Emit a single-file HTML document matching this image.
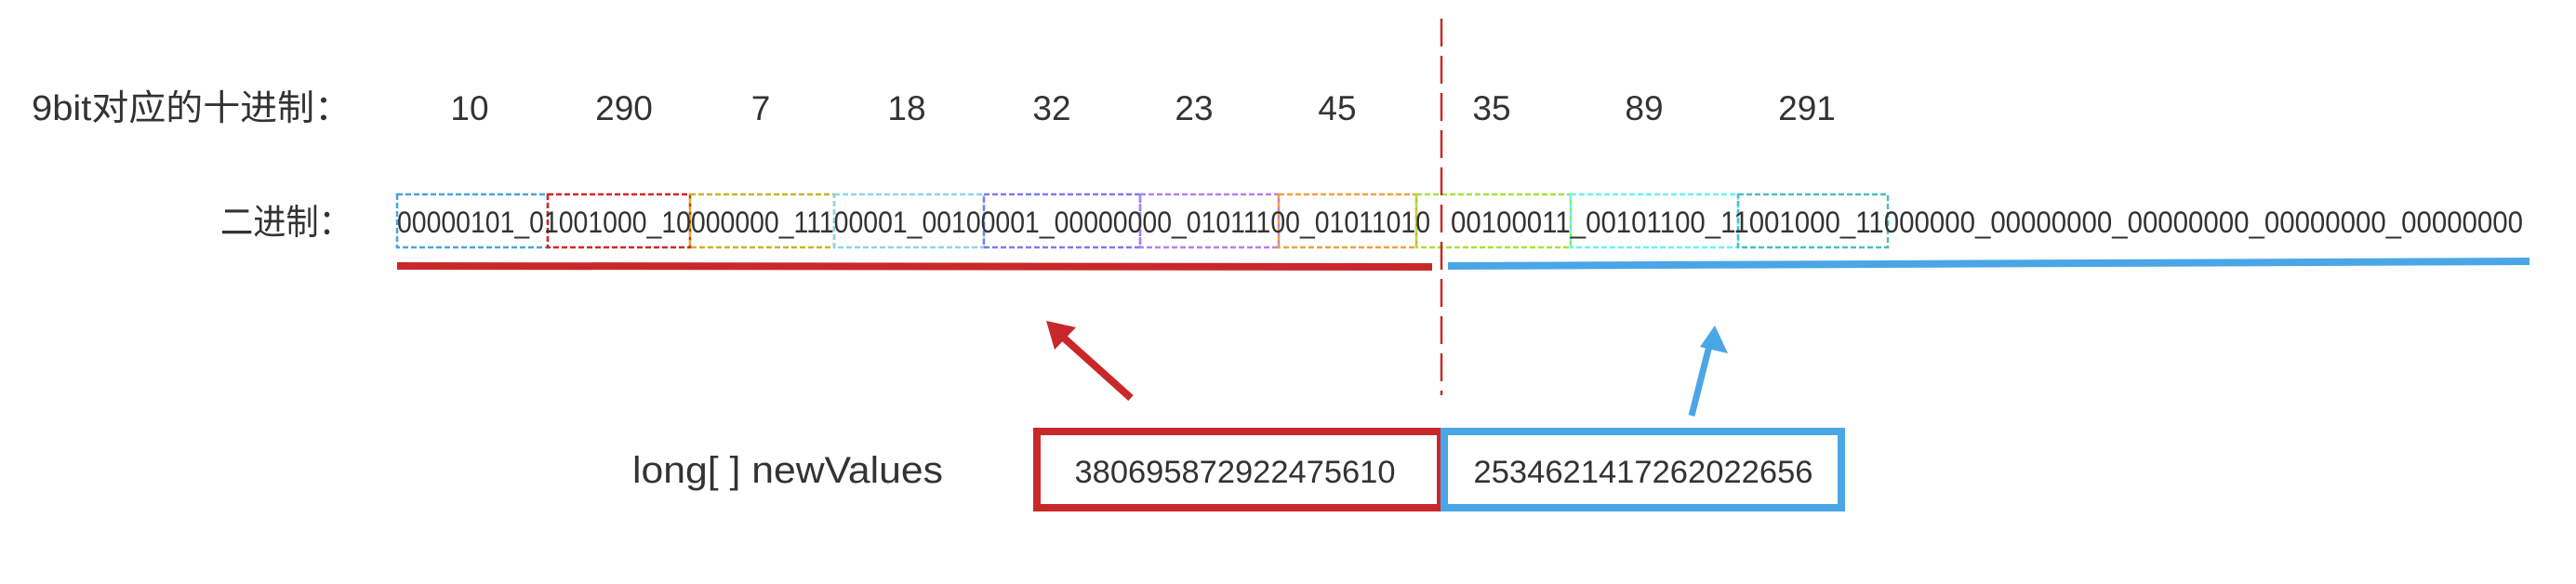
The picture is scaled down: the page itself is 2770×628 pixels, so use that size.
<!DOCTYPE html>
<html><head><meta charset="utf-8"><style>
html,body{margin:0;padding:0;background:#fff;}
svg{display:block;}
text{font-family:"Liberation Sans","Noto Sans CJK SC",sans-serif;fill:#333;}
</style></head><body>
<svg width="2770" height="628" viewBox="0 0 2770 628" xmlns="http://www.w3.org/2000/svg">
<rect width="2770" height="628" fill="#fff"/>
<g id="decimals">
<text x="34" y="129" font-size="38" textLength="344" lengthAdjust="spacingAndGlyphs">9bit对应的十进制：</text>
</g>
<g id="boxes"></g>
<text x="237" y="252" font-size="38" textLength="141" lengthAdjust="spacingAndGlyphs">二进制：</text>
<text x="427" y="250" font-size="32" textLength="1111" lengthAdjust="spacingAndGlyphs">00000101_01001000_10000000_11100001_00100001_00000000_01011100_01011010</text>
<text x="1560" y="250" font-size="32" textLength="1153" lengthAdjust="spacingAndGlyphs">00100011_00101100_11001000_11000000_00000000_00000000_00000000_00000000</text>
<line x1="1550" y1="20" x2="1550" y2="425" stroke="#c9282a" stroke-width="2.5" stroke-dasharray="30,10"/>
<line x1="427" y1="286" x2="1540" y2="287" stroke="#c9282a" stroke-width="8"/>
<line x1="1557" y1="286" x2="2720" y2="281" stroke="#4aa6e6" stroke-width="8"/>
<g>
<line x1="1216" y1="428" x2="1138" y2="358" stroke="#c9282a" stroke-width="8"/>
<polygon points="1125,345 1157,352 1134,376" fill="#c9282a"/>
</g>
<g>
<line x1="1819" y1="447" x2="1839" y2="368" stroke="#4aa6e6" stroke-width="7"/>
<polygon points="1844,350 1858,380 1828,373" fill="#4aa6e6"/>
</g>
<text x="680" y="519" font-size="40" textLength="334" lengthAdjust="spacingAndGlyphs">long[ ] newValues</text>
<rect x="1115" y="464" width="434" height="82" fill="none" stroke="#c9282a" stroke-width="8"/>
<rect x="1553" y="464" width="427" height="82" fill="none" stroke="#4aa6e6" stroke-width="8"/>
<text x="1328" y="519" font-size="34" text-anchor="middle" textLength="345" lengthAdjust="spacingAndGlyphs">380695872922475610</text>
<text x="1767" y="519" font-size="34" text-anchor="middle" textLength="365" lengthAdjust="spacingAndGlyphs">2534621417262022656</text>
</svg>
<script>
const decimals=[10,290,7,18,32,23,45,35,89,291];
const decimalCenters=[505,671,818,975,1131,1284,1438,1604,1768,1943];
const boxEdges=[427,589,742,897,1058,1226,1375,1523,1689,1869,2030];
const boxColors=["#4aa3e0","#d0282a","#c8b52a","#8fd3ee","#7b7df0","#b67ff0","#f0a040","#a8e23a","#6ef0f0","#4fbdbd"];
const NS="http://www.w3.org/2000/svg";
const dg=document.getElementById('decimals');
decimals.forEach((v,i)=>{
 const t=document.createElementNS(NS,'text');
 t.setAttribute('x',decimalCenters[i]);t.setAttribute('y',129);
 t.setAttribute('font-size','37');t.setAttribute('text-anchor','middle');
 t.textContent=v;
 
 
 dg.appendChild(t);
});
const bg=document.getElementById('boxes');
for(let i=0;i<boxColors.length;i++){
 const r=document.createElementNS(NS,'rect');
 r.setAttribute('x',boxEdges[i]);r.setAttribute('y',209);
 r.setAttribute('width',boxEdges[i+1]-boxEdges[i]);r.setAttribute('height',57);
 r.setAttribute('fill','none');r.setAttribute('stroke',boxColors[i]);
 r.setAttribute('stroke-width','2.5');r.setAttribute('stroke-dasharray','6,3');
 
 
 bg.appendChild(r);
}
</script>
</body></html>
